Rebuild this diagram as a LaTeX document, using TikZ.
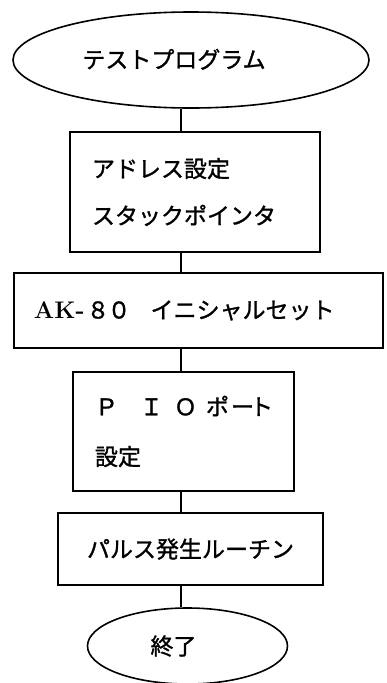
\documentclass[tikz,border=0pt]{standalone}
\usepackage{fontspec}
\newfontfamily\jp[FakeBold=1.2]{Noto Sans CJK JP}
\usetikzlibrary{shapes.geometric}
\tikzset{
  flow/.style={draw=black, line width=1.6pt},
  term/.style={flow, ellipse, inner sep=0pt},
  stepbox/.style={flow, rectangle, inner ysep=0pt, align=left},
  jptext/.style={font=\jp\fontsize{23}{47}\selectfont},
  conn/.style={draw=black, line width=1.6pt}
}
\begin{document}
\begin{tikzpicture}[x=1pt,y=-1pt]
\useasboundingbox (0,0) rectangle (386,683);
\coordinate (spine) at (181,0);
\node[term, jptext, minimum width=356pt, minimum height=96pt] (e1) at (191,60) {\raisebox{3pt}{テストプログラム}\hspace*{34pt}};
\node[stepbox, jptext, minimum width=250pt, minimum height=120pt, text width=206pt, inner xsep=22pt] (b1) at (195,192) {\raisebox{-3pt}{アドレス設定}\\\raisebox{-3pt}{スタックポインタ}};
\node[stepbox, jptext, minimum width=369pt, minimum height=75pt, text width=329pt, inner xsep=20pt] (b2) at (198.5,310.5) {{\rmfamily\bfseries\fontsize{24}{24}\selectfont AK-}\hspace{2pt}８\hspace{-2pt}０　\hspace{-3pt}イニシャルセット};
\node[stepbox, font=\jp\fontsize{23}{50}\selectfont, minimum width=221pt, minimum height=119pt, text width=177pt, inner xsep=22pt] (b3) at (183.5,431.5) {\mbox{Ｐ\hspace{22pt}Ｉ\hspace{11pt}Ｏ\hspace{9pt}ポ\hspace{2pt}ー\hspace{-4pt}ト}\\設定};
\node[stepbox, jptext, minimum width=265pt, minimum height=72pt, text width=221pt, inner xsep=22pt, align=center] (b4) at (190.5,549) {パルス発生ルーチン\hspace*{8pt}};
\node[term, jptext, minimum width=200pt, minimum height=76pt] (e2) at (187.5,646) {\raisebox{-5pt}{終了}\hspace*{28pt}};
\draw[conn] (spine |- e1.south) -- (spine |- b1.north);
\draw[conn] (spine |- b1.south) -- (spine |- b2.north);
\draw[conn] (spine |- b2.south) -- (spine |- b3.north);
\draw[conn] (spine |- b3.south) -- (spine |- b4.north);
\draw[conn] (spine |- b4.south) -- (spine |- e2.north);
\end{tikzpicture}
\end{document}
